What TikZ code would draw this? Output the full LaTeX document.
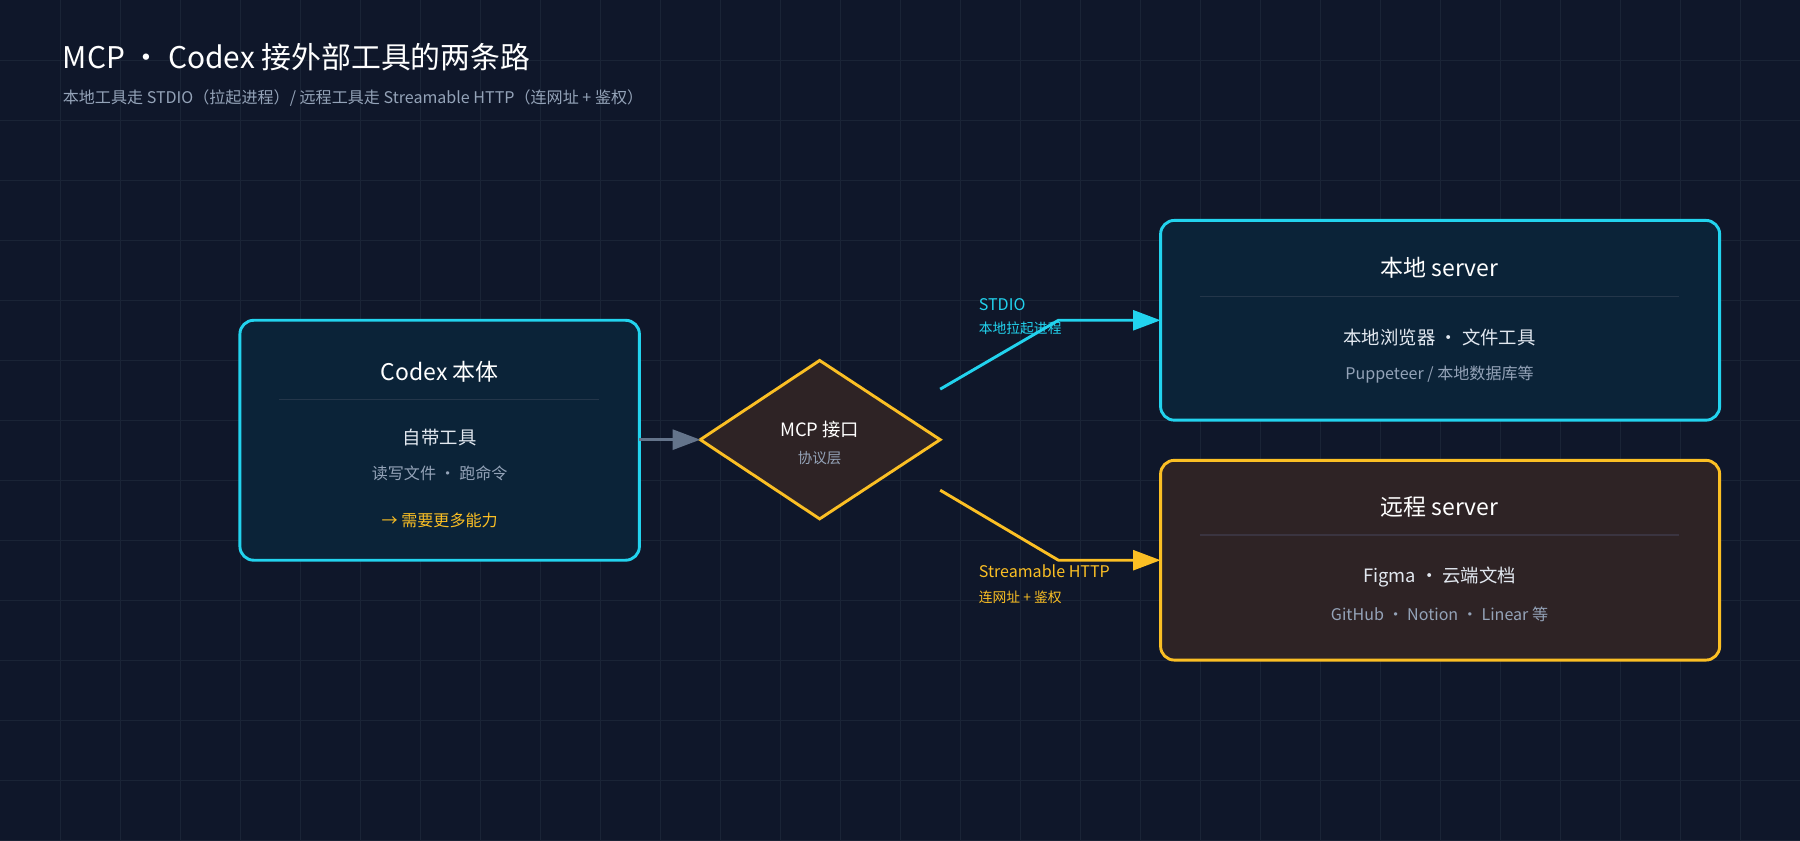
\documentclass[tikz,border=0pt]{standalone}
\usepackage{fontspec}
\setmainfont{Noto Sans CJK SC}
\usetikzlibrary{arrows.meta}
\definecolor{bg}{HTML}{0F172A}
\definecolor{gridc}{HTML}{1A2436}
\definecolor{cyanc}{HTML}{22D3EE}
\definecolor{amberc}{HTML}{FBBF24}
\definecolor{grayt}{HTML}{94A3B8}
\definecolor{lightt}{HTML}{E2E8F0}
\definecolor{arrowg}{HTML}{64748B}
\definecolor{bluefill}{HTML}{0B2338}
\definecolor{brownfill}{HTML}{2E2325}
\definecolor{sepc}{HTML}{24364A}
\definecolor{sepb}{HTML}{3A3440}
\tikzset{
  box/.style={rounded corners=9pt, line width=1.9pt},
  ttl/.style={text=white, font=\fontsize{15}{18}\selectfont},
  main/.style={text=lightt, font=\fontsize{12}{14}\selectfont},
  sub/.style={text=grayt, font=\fontsize{10.5}{13}\selectfont},
  lab/.style={anchor=west, font=\fontsize{10.5}{13}\selectfont},
  labs/.style={anchor=west, font=\fontsize{9}{11}\selectfont},
  conn/.style={line width=1.9pt, -{Triangle[length=18pt,width=13pt]}}
}
\begin{document}
\begin{tikzpicture}[x=0.75pt,y=-0.75pt]
\fill[bg] (0,0) rectangle (1568,732);
\useasboundingbox (0,0) rectangle (1568,732);
\foreach \i in {1,...,30} \draw[gridc, line width=0.5pt] (\i*52.27,0) -- (\i*52.27,732);
\foreach \j in {1,...,14} \draw[gridc, line width=0.5pt] (0,\j*52.27) -- (1568,\j*52.27);
\node[anchor=west, text=white, font=\fontsize{19.5}{23}\selectfont] (title) at (50,50) {MCP · Codex 接外部工具的两条路};
\node[anchor=west, text=grayt, font=\fontsize{10.5}{13}\selectfont] (subt) at (50,85) {本地工具走 STDIO（拉起进程）/ 远程工具走 Streamable HTTP（连网址 + 鉴权）};
% Codex box
\draw[box, cyanc, fill=bluefill] (209,279) rectangle (557,488);
\node (codex) at (383,383) {};
\node[ttl] (ct) at (383,324) {Codex 本体};
\draw[sepc, line width=0.8pt] (243,348) -- (522,348);
\node[main] (c1) at (383,381) {自带工具};
\node[sub] (c2) at (383,412) {读写文件 · 跑命令};
\node[text=amberc, font=\fontsize{10.5}{13}\selectfont] (c3) at (383,453) {→ 需要更多能力};
\coordinate (cr) at (557,383);
% diamond
\draw[amberc, line width=1.9pt, fill=brownfill] (610,383) -- (714,314) -- (819,383) -- (714,452) -- cycle;
\coordinate (dl) at (610,383);
\coordinate (dtop) at (819,339);
\coordinate (dbot) at (819,427);
\node[text=white, font=\fontsize{12}{14}\selectfont] (d1) at (714,374) {MCP 接口};
\node[text=grayt, font=\fontsize{9.5}{12}\selectfont] (d2) at (714,399) {协议层};
% local box
\draw[box, cyanc, fill=bluefill] (1011,192) rectangle (1498,366);
\coordinate (ll) at (1011,279);
\node[ttl] (lt) at (1254,233) {本地 server};
\draw[sepc, line width=0.8pt] (1045,258) -- (1463,258);
\node[main] (l1) at (1254,294) {本地浏览器 · 文件工具};
\node[sub] (l2) at (1254,326) {Puppeteer / 本地数据库等};
% remote box
\draw[box, amberc, fill=brownfill] (1011,401) rectangle (1498,575);
\coordinate (rl) at (1011,488);
\node[ttl] (rt) at (1254,442) {远程 server};
\draw[sepb, line width=0.8pt] (1045,466) -- (1463,466);
\node[main] (r1) at (1254,503) {Figma · 云端文档};
\node[sub] (r2) at (1254,535) {GitHub · Notion · Linear 等};
% connectors
\draw[conn, arrowg] (cr) -- (dl);
\draw[conn, cyanc] (dtop) -- (922,279) -- (ll);
\draw[conn, amberc] (dbot) -- (922,488) -- (rl);
\node[lab, text=cyanc] (s1) at (848,265) {STDIO};
\node[labs, text=cyanc] (s2) at (848,286) {本地拉起进程};
\node[lab, text=amberc] (h1) at (848,498) {Streamable HTTP};
\node[labs, text=amberc] (h2) at (848,520) {连网址 + 鉴权};
\end{tikzpicture}
\end{document}
